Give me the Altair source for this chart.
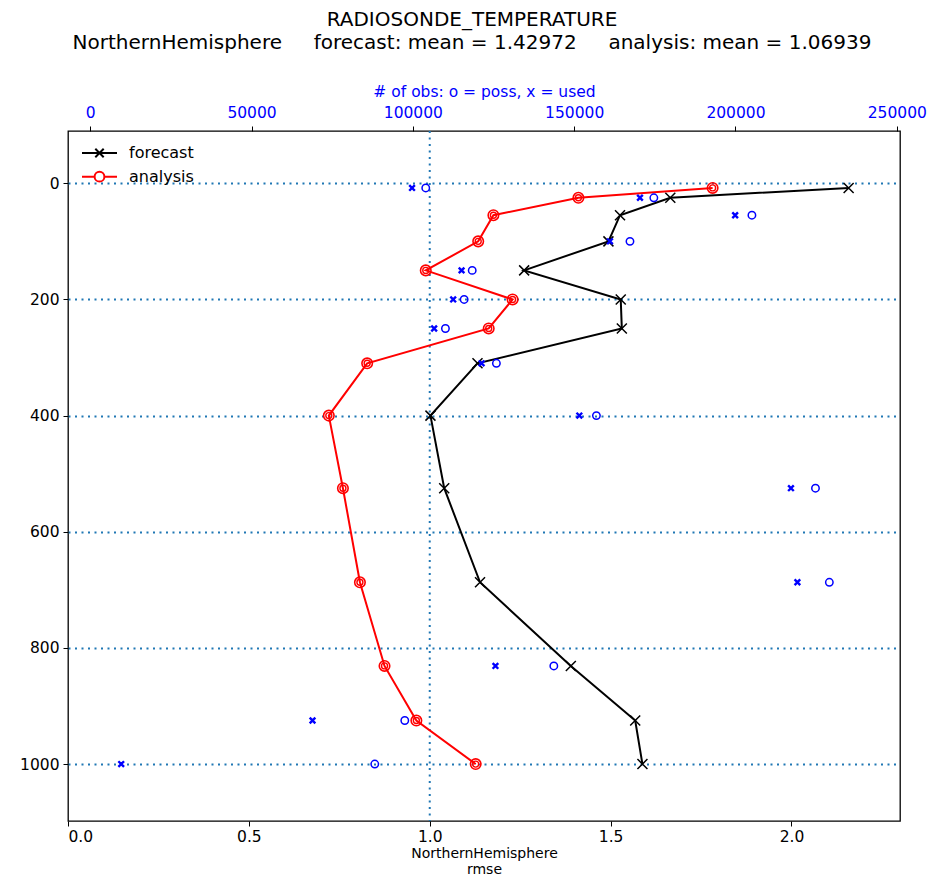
import altair as alt
import pandas as pd

# ---- data ----
levels = [8, 25, 55, 100, 150, 200, 250, 310, 400, 525, 687, 831, 925, 1000]
forecast_rmse = [2.158, 1.665, 1.526, 1.494, 1.261, 1.528, 1.531, 1.132, 1.002, 1.040, 1.139, 1.390, 1.568, 1.588]
analysis_rmse = [1.782, 1.411, 1.176, 1.134, 0.989, 1.229, 1.163, 0.827, 0.721, 0.760, 0.807, 0.875, 0.963, 1.127]
obs_used = [99750, 170400, 199900, 161100, 115100, 112500, 106600, 121300, 151600, 217200, 219200, 125600, 68900, 9600]
obs_poss = [104000, 174700, 205100, 167300, 118400, 115900, 110100, 125900, 156900, 224800, 229100, 143700, 97500, 88200]

series_names = ["forecast", "analysis"]
series_colors = ["black", "red"]
x_ticks = [0, 0.5, 1.0, 1.5, 2.0]
top_ticks = [0, 50000, 100000, 150000, 200000, 250000]
y_ticks = [0, 200, 400, 600, 800, 1000]
ref_rmse = [1.0]

NB = "\u00a0"
title_lines = [
    "RADIOSONDE_TEMPERATURE",
    "NorthernHemisphere" + NB * 5 + "forecast: mean = 1.42972" + NB * 5 + "analysis: mean = 1.06939",
]

FONT = "DejaVu Sans"
GRID_BLUE = "#1f77b4"

fc = pd.DataFrame({"level": levels, "rmse": forecast_rmse})
an = pd.DataFrame({"level": levels, "rmse": analysis_rmse})
obs = pd.DataFrame({"level": levels, "used": obs_used, "poss": obs_poss})
leg = pd.DataFrame({"series": series_names})
ref = pd.DataFrame({"rmse": ref_rmse})

x_scale = alt.Scale(domain=[0, 2.3], nice=False, zero=False)
y_scale = alt.Scale(domain=[-90, 1098], nice=False, zero=False, reverse=True)
x_axis = alt.Axis(values=x_ticks, format=".1f", title=["NorthernHemisphere", "rmse"],
                  grid=False, domain=False, tickColor="black", tickSize=5,
                  labelPadding=3, titlePadding=2, titleLineHeight=16, titleFontSize=14)
y_axis = alt.Axis(values=y_ticks, format="d", title=None, grid=True, gridDash=[2, 4.5],
                  gridColor=GRID_BLUE, gridWidth=2, domain=False,
                  tickColor="black", tickSize=5, labelPadding=4)

X = alt.X("rmse:Q", scale=x_scale, axis=x_axis)
Y = alt.Y("level:Q", scale=y_scale, axis=y_axis)

X_PATH = "M-1,-1L1,1M-1,1L1,-1"

ref_rule = alt.Chart(ref).mark_rule(color=GRID_BLUE, strokeWidth=2, strokeDash=[2, 4.5]).encode(x=X)

fc_line = alt.Chart(fc).mark_line(color="black", strokeWidth=2).encode(x=X, y=Y, order="level:Q")
fc_pts = alt.Chart(fc).mark_point(shape=X_PATH, color="black", size=100, strokeWidth=1.5,
                                  filled=False, opacity=1).encode(x=X, y=Y)
an_line = alt.Chart(an).mark_line(color="red", strokeWidth=2).encode(x=X, y=Y, order="level:Q")
an_pts_outer = alt.Chart(an).mark_point(shape="circle", color="red", size=110, strokeWidth=1.6,
                                        filled=False, opacity=1).encode(x=X, y=Y)
an_pts_inner = alt.Chart(an).mark_point(shape="circle", color="red", size=36, strokeWidth=1.4,
                                        filled=False, opacity=1).encode(x=X, y=Y)

legend_layer = alt.Chart(leg).mark_point(filled=False, opacity=0).encode(
    color=alt.Color("series:N", scale=alt.Scale(domain=series_names, range=series_colors),
                    legend=alt.Legend(title=None, orient="none", legendX=23.5, legendY=14,
                                      padding=0, labelFont=FONT, labelFontSize=16,
                                      labelColor="black", symbolSize=196, symbolStrokeWidth=2,
                                      rowPadding=5.7, labelOffset=21.5, symbolOpacity=1)),
    shape=alt.Shape("series:N", scale=alt.Scale(
        domain=series_names,
        range=["M-2.5,0L2.5,0M-0.6,-0.6L0.6,0.6M-0.6,0.6L0.6,-0.6",
               "M-2.5,0L-0.7,0M0.7,0L2.5,0M-0.7,0A0.7,0.7,0,1,0,0.7,0A0.7,0.7,0,1,0,-0.7,0"]),
        legend=alt.Legend(title=None, orient="none", legendX=23.5, legendY=14)),
)

main = alt.layer(ref_rule, fc_line, fc_pts, an_line, an_pts_outer, an_pts_inner, legend_layer)

top_scale = alt.Scale(domain=[-6890, 251000], nice=False, zero=False)
top_axis = alt.Axis(orient="top", values=top_ticks, format="d", grid=False, domain=False,
                    title="# of obs: o = poss, x = used", titleColor="blue",
                    labelColor="blue", tickColor="black", tickSize=5, labelPadding=6,
                    titlePadding=6)

used_pts = alt.Chart(obs).mark_point(shape=X_PATH, color="blue", size=32, strokeWidth=2.4,
                                     filled=False, opacity=1).encode(
    x=alt.X("used:Q", scale=top_scale, axis=top_axis),
    y=alt.Y("level:Q", scale=y_scale, axis=y_axis))
poss_pts = alt.Chart(obs).mark_point(shape="circle", color="blue", size=55, strokeWidth=1.5,
                                     filled=False, opacity=1).encode(
    x=alt.X("poss:Q", scale=top_scale, axis=top_axis),
    y=alt.Y("level:Q", scale=y_scale, axis=y_axis))
obs_layer = alt.layer(used_pts, poss_pts)

chart = alt.layer(main, obs_layer).resolve_scale(x="independent").resolve_axis(x="independent").properties(
    width=832, height=690,
    autosize=alt.AutoSizeParams(type="none"),
    padding={"left": 60, "top": 123, "right": 36, "bottom": 58},
    title=alt.TitleParams(text=title_lines, font=FONT, fontSize=20, fontWeight="normal",
                          color="black", anchor="middle", dx=-12, offset=31, lineHeight=23),
).configure_view(stroke="black", strokeWidth=1.3).configure_axis(
    labelFont=FONT, titleFont=FONT, labelFontSize=15.5, titleFontSize=15.5,
    titleFontWeight="normal", labelColor="black", titleColor="black",
)

chart.save("out.html", embed_options={"renderer": "svg", "actions": False})
